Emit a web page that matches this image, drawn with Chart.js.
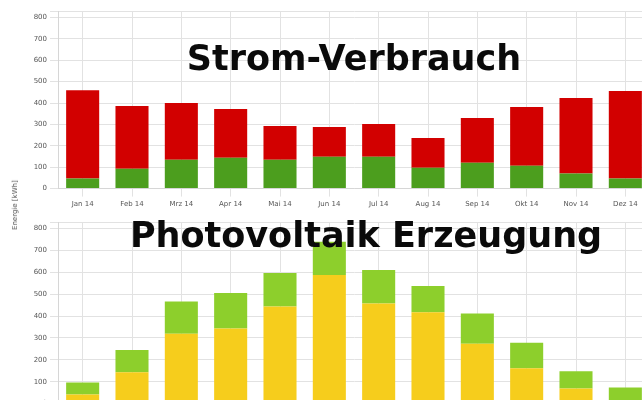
<!DOCTYPE html>
<html>
<head>
<meta charset="utf-8">
<script src="https://cdn.jsdelivr.net/npm/chart.js@4/dist/chart.umd.min.js"></script>
<style>
    html, body { margin: 0; padding: 0; background: #fff; overflow: hidden; width: 642px; height: 400px; }
    #wrap { position: relative; width: 660px; height: 428px; }
    canvas { display: block; position: absolute; left: 0; }
    #topChart { top: 0; }
    #bottomChart { top: 212px; }
    #yTitle {
        position: absolute; left: 15px; top: 205px;
        transform: translate(-50%, -50%) rotate(-90deg);
        font: 7px "DejaVu Sans", sans-serif; color: #555; white-space: nowrap;
    }
</style>
</head>
<body>
<div id="wrap">
    <canvas id="topChart" width="660" height="212"></canvas>
    <canvas id="bottomChart" width="660" height="216"></canvas>
    <div id="yTitle">Energie [kWh]</div>
</div>
<script>
// ---------- DATA ----------
const months = ["Jan 14", "Feb 14", "Mrz 14", "Apr 14", "Mai 14", "Jun 14", "Jul 14", "Aug 14", "Sep 14", "Okt 14", "Nov 14", "Dez 14"];

// Strom-Verbrauch (kWh): green part at bottom, red part on top
const verbrauchGruen = [47, 93, 135, 144, 135, 149, 149, 98, 121, 107, 70, 47];
const verbrauchRot = [413, 293, 265, 228, 158, 139, 153, 139, 209, 274, 353, 409];

// Photovoltaik Erzeugung (kWh): yellow part at bottom, light green on top
const pvGelb = [42, 143, 319, 343, 444, 588, 458, 417, 273, 162, 69, 12];
const pvGruen = [55, 102, 148, 162, 153, 152, 153, 120, 139, 116, 79, 62];

const yTicks = [0, 100, 200, 300, 400, 500, 600, 700, 800];

// ---------- overlay title drawn inside the plot area ----------
const overlayTitle = {
    id: "overlayTitle",
    afterDatasetsDraw(chart, args, opts) {
        const area = chart.chartArea;
        const ctx = chart.ctx;
        ctx.save();
        ctx.font = "bold 35px 'DejaVu Sans', sans-serif";
        ctx.fillStyle = "#0a0a0a";
        ctx.textAlign = "center";
        ctx.textBaseline = "alphabetic";
        ctx.fillText(opts.text, (area.left + area.right) / 2 + (opts.dx || 0), area.top + opts.baseline);
        ctx.restore();
    }
};

function makeChart(id, bottomSet, topSet, title, pad) {
    return new Chart(document.getElementById(id), {
        type: "bar",
        data: {
            labels: months,
            datasets: [bottomSet, topSet]
        },
        options: {
            responsive: false,
            animation: false,
            layout: { padding: pad },
            datasets: { bar: { barPercentage: 0.67, categoryPercentage: 1 } },
            plugins: {
                legend: { display: false },
                tooltip: { enabled: false },
                overlayTitle: title
            },
            scales: {
                x: {
                    stacked: true,
                    grid: { offset: false, color: "#e2e2e2", tickLength: 8 },
                    border: { color: "#d6d6d6" },
                    ticks: { color: "#555", font: { size: 7, family: "'DejaVu Sans', sans-serif" }, padding: 3, maxRotation: 0 }
                },
                y: {
                    stacked: true,
                    min: 0,
                    max: 830,
                    afterBuildTicks: (scale) => {
                        scale.ticks = yTicks.map(v => ({ value: v })).concat([{ value: 830 }]);
                    },
                    afterFit: (scale) => { scale.width = 58; },
                    grid: { color: "#e2e2e2", tickLength: 8 },
                    border: { color: "#d6d6d6" },
                    ticks: {
                        color: "#555",
                        font: { size: 7, family: "'DejaVu Sans', sans-serif" },
                        padding: 3,
                        callback: (v) => (v % 100 === 0 ? v : "")
                    }
                }
            }
        },
        plugins: [overlayTitle]
    });
}

// ---------- TOP: Strom-Verbrauch ----------
makeChart("topChart",
    { label: "Eigenverbrauch", data: verbrauchGruen, backgroundColor: "#4c9e1e" },
    { label: "Netzbezug", data: verbrauchRot, backgroundColor: "#d20000" },
    { text: "Strom-Verbrauch", baseline: 59, dx: 0 },
    { top: 11, right: 10, bottom: 1, left: 0 }
);

// ---------- BOTTOM: Photovoltaik Erzeugung ----------
makeChart("bottomChart",
    { label: "Eigenverbrauch", data: pvGelb, backgroundColor: "#f6cd1c" },
    { label: "Einspeisung", data: pvGruen, backgroundColor: "#8dcf2c" },
    { text: "Photovoltaik Erzeugung", baseline: 25, dx: 12 },
    { top: 10, right: 10, bottom: 2, left: 0 }
);
</script>
</body>
</html>
